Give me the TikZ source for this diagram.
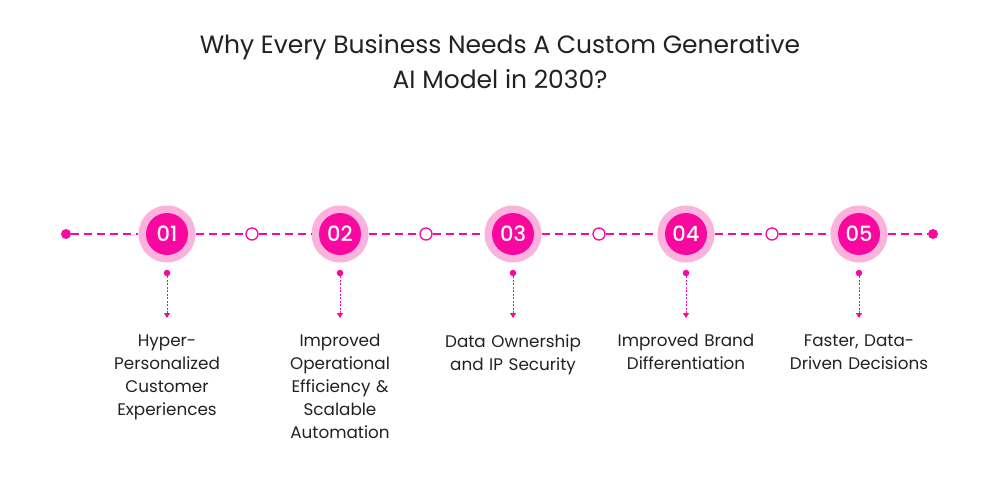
\documentclass[tikz,border=0pt]{standalone}
\usepackage{fontspec}
\setmainfont{Poppins}
\newfontfamily\pmed{Poppins Medium}
\usetikzlibrary{arrows.meta}
\definecolor{pk}{HTML}{F8089E}
\definecolor{lpk}{HTML}{FBB2DD}
\definecolor{txt}{HTML}{222222}
\tikzset{
  mainline/.style={pk, line width=1.6pt, dash pattern=on 8pt off 5pt},
  outerc/.style={circle, fill=lpk, minimum size=57pt, inner sep=0pt},
  innerc/.style={circle, fill=pk, minimum size=42pt, inner sep=0pt, text=white, font=\pmed\fontsize{21}{22}\selectfont},
  hollow/.style={circle, draw=pk, fill=white, line width=1.3pt, minimum size=12pt, inner sep=0pt},
  enddot/.style={circle, fill=pk, minimum size=10pt, inner sep=0pt},
  smalldot/.style={circle, fill=pk, minimum size=6.5pt, inner sep=0pt},
  drop/.style={pk, line width=1pt, dash pattern=on 2pt off 1.5pt, -{Triangle[length=5pt,width=6pt]}},
  label/.style={text=txt, align=center, font=\fontsize{16.8}{23}\selectfont, anchor=north, text width=140pt},
  title/.style={text=txt, align=center, font=\fontsize{25}{35}\selectfont}
}
\begin{document}
\begin{tikzpicture}[x=1pt,y=-1pt]
\useasboundingbox[fill=white] (0,0) rectangle (1000,500);
\node[title] (t) at (500,62) {Why Every Business Needs A Custom Generative\\AI Model in 2030?};
\node[enddot] (L) at (66,234) {};
\node[enddot] (R) at (933,234) {};
\foreach \i/\x in {1/167,2/340,3/513,4/686,5/859}{
  \node[outerc] (o\i) at (\x,234) {};
}
\foreach \i/\x in {1/252,2/426,3/599,4/772}{
  \node[hollow] (h\i) at (\x,234) {};
}
\draw[mainline] (L) -- (o1);
\draw[mainline] (o1) -- (h1); \draw[mainline] (h1) -- (o2);
\draw[mainline] (o2) -- (h2); \draw[mainline] (h2) -- (o3);
\draw[mainline] (o3) -- (h3); \draw[mainline] (h3) -- (o4);
\draw[mainline] (o4) -- (h4); \draw[mainline] (h4) -- (o5);
\draw[mainline] (o5) -- (R);
\foreach \i/\x/\t in {1/167/Hyper-\\Personalized\\Customer\\Experiences,
                      2/340/Improved\\Operational\\Efficiency \&\\Scalable\\Automation,
                      3/513/Data Ownership\\and IP Security,
                      4/686/Improved Brand\\Differentiation,
                      5/859/Faster{,} Data-\\Driven Decisions}{
  \node[innerc] (n\i) at (\x,234) {0\i};
  \node[smalldot] (d\i) at (\x,273) {};
  \coordinate (a\i) at (\x,318);
  \draw[drop] (d\i) -- (a\i);
  \node[label] (l\i) at (\x,331) {\t};
}
\end{tikzpicture}
\end{document}
